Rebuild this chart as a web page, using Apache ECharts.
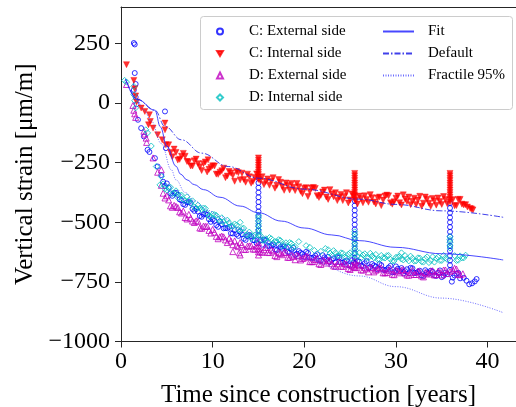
<!doctype html>
<html lang="en">
<head>
<meta charset="UTF-8" />
<title>Vertical strain</title>
<script src="https://cdn.jsdelivr.net/npm/echarts@6/dist/echarts.min.js"></script>
<style>
  html, body { margin: 0; padding: 0; background: #fff; }
  #chart { width: 516px; height: 407px; }
</style>
</head>
<body>
<div id="chart"></div>
<script>
// axis ticks
const xTicks = [0, 10, 20, 30, 40];
const yTicks = [-1000, -750, -500, -250, 0, 250];

// C: External side [years, strain]
const cExternal = [
  [1.4,252],[1.5,246],[1.5,126],[1.6,80],[1.4,55],[1.6,25],[1.7,-5],[1.85,-70],[2.2,-105],[2.5,-140],
  [2.9,-196],[3.1,-205],[3.7,-231],[4.0,-266],[4.8,-35],[4.9,-189],
  [4.4,-302],[4.8,-348],[5.2,-355],[5.6,-389],[6.0,-376],[6.4,-404],[6.8,-424],[7.2,-416],[7.6,-419],
  [8.0,-452],[8.4,-455],[8.8,-477],[9.2,-464],[9.6,-487],[10.0,-488],[10.4,-512],[10.8,-496],[11.2,-525],
  [11.6,-525],[12.0,-546],[12.4,-533],[12.8,-557],[13.2,-550],[13.6,-574],[14.0,-553],[14.4,-575],
  [14.8,-588],[15.2,-575],[15.6,-572],[16.0,-599],[16.4,-597],[16.8,-614],[17.2,-594],[17.6,-611],
  [18.0,-606],[18.4,-627],[18.8,-607],[19.2,-632],[19.6,-628],[20.0,-645],[20.4,-629],[20.8,-650],
  [21.2,-640],[21.6,-661],[22.0,-638],[22.4,-656],[22.8,-667],[23.2,-651],[23.6,-646],[24.0,-669],
  [24.4,-665],[24.8,-680],[25.2,-659],[25.6,-674],[26.0,-665],[26.4,-684],[26.8,-663],[27.2,-687],
  [27.6,-681],[28.0,-697],[28.4,-680],[28.8,-701],[29.2,-690],[29.6,-710],[30.0,-685],[30.4,-704],
  [30.8,-714],[31.2,-697],[31.6,-691],[32.0,-713],[32.4,-708],[32.8,-723],[33.2,-701],[33.6,-715],
  [34.0,-707],[34.4,-725],[34.8,-702],[35.2,-724],[35.6,-717],[36.1,-749],[36.2,-732],[36.6,-715],
  [37.0,-735],[37.4,-733],[37.7,-745],[38.0,-760],[38.3,-756],[38.6,-748],[38.8,-738]
];
const cExternalRow2 = [
  [4.6,-330],[5.0,-337],[5.4,-379],[5.8,-377],[6.2,-385],[6.6,-408],[7.0,-427],[7.4,-415],[7.8,-444],
  [8.2,-444],[8.6,-474],[9.0,-467],[9.4,-469],[9.8,-498],[10.2,-494],[10.6,-519],[11.0,-508],[11.4,-524],
  [11.8,-519],[12.2,-547],[12.6,-550],[13.0,-539],[13.4,-569],[13.8,-558],[14.2,-559],[14.6,-576],
  [15.4,-594],[15.8,-576],[16.2,-600],[16.6,-593],[17.0,-617],[17.4,-604],[17.8,-601],[18.2,-624],
  [18.6,-615],[19.0,-636],[19.4,-621],[19.8,-633],[20.2,-624],[20.6,-648],[21.0,-648],[21.4,-634],
  [21.8,-661],[22.2,-647],[22.6,-645],[23.0,-658],[23.4,-669],[23.8,-648],[24.2,-669],[24.6,-660],
  [25.0,-682],[25.4,-668],[25.8,-662],[26.2,-682],[26.6,-672],[27.0,-692],[27.4,-675],[27.8,-686],
  [28.2,-675],[28.6,-699],[29.0,-698],[29.4,-683],[29.8,-709],[30.2,-695],[30.6,-692],[31.0,-705],
  [31.4,-714],[31.8,-693],[32.2,-712],[32.6,-703],[33.0,-725],[33.4,-710],[33.8,-703],[34.2,-723],
  [34.6,-712],[35.0,-730],[35.4,-712],[36.4,-723],[36.8,-712]
];
const cExternalSpikes = [
  [15.0,-315],[15.0,-335],[15.0,-355],[15.0,-375],[15.0,-395],[15.0,-415],[15.0,-435],[15.0,-455],
  [15.0,-475],[15.0,-495],[15.0,-515],[15.0,-535],[15.0,-555],
  [25.5,-410],[25.5,-430],[25.5,-450],[25.5,-470],[25.5,-490],[25.5,-510],[25.5,-530],[25.5,-550],
  [25.5,-570],[25.5,-590],[25.5,-610],[25.5,-630],[25.5,-650],
  [35.9,-420],[35.9,-440],[35.9,-460],[35.9,-480],[35.9,-500],[35.9,-520],[35.9,-540],[35.9,-560],
  [35.9,-580],[35.9,-600],[35.9,-620],[35.9,-640],[35.9,-660],[35.9,-680],[35.9,-700]
];

// C: Internal side
const cInternal = [
  [0.6,161],[1.4,95],[1.5,60],[1.6,30],[1.7,5],[2.2,-21],[2.6,-35],[3.1,-49],[3.2,-77],[3.0,-91],
  [3.5,-105],[4.0,-133],[4.8,-84],[4.8,-112],[4.5,-154],[4.9,-175],[9.5,-238],
  [5.2,-175],[5.6,-225],[6.0,-207],[6.4,-236],[6.8,-211],[7.2,-245],[7.6,-264],[8.0,-242],[8.4,-254],
  [8.8,-283],[9.2,-247],[9.6,-278],[10.0,-263],[10.4,-298],[10.8,-290],[11.2,-273],[11.6,-306],
  [12.0,-293],[12.4,-328],[12.8,-292],[13.2,-294],[13.6,-332],[14.0,-309],[14.4,-329],[14.8,-297],
  [15.2,-326],[15.6,-342],[16.0,-318],[16.4,-328],[16.8,-357],[17.2,-321],[17.6,-351],[18.0,-335],
  [18.4,-365],[18.8,-353],[19.2,-337],[19.6,-370],[20.0,-357],[20.4,-392],[20.8,-356],[21.2,-358],
  [21.6,-396],[22.0,-373],[22.4,-394],[22.8,-363],[23.2,-393],[23.6,-409],[24.0,-383],[24.4,-392],
  [24.8,-419],[25.2,-381],[25.6,-409],[26.0,-390],[26.4,-418],[26.8,-404],[27.2,-384],[27.6,-415],
  [28.0,-398],[28.4,-430],[28.8,-390],[29.2,-389],[29.6,-424],[30.0,-399],[30.4,-418],[30.8,-385],
  [31.2,-413],[31.6,-426],[32.0,-399],[32.4,-407],[32.8,-433],[33.2,-394],[33.6,-420],[34.0,-400],
  [34.4,-428],[34.8,-413],[35.2,-392],[35.6,-422],[36.2,-405],[36.6,-430],[37.0,-404],[37.4,-427],
  [37.8,-436],[38.1,-442],[38.4,-448]
];
const cInternalRow2 = [
  [5.4,-207],[5.8,-193],[6.2,-239],[6.6,-223],[7.0,-223],[7.4,-246],[7.8,-264],[8.2,-235],[8.6,-267],
  [9.0,-254],[9.4,-289],[9.8,-270],[10.2,-264],[10.6,-299],[11.0,-284],[11.4,-313],[11.8,-287],
  [12.2,-304],[12.6,-287],[13.0,-322],[13.4,-320],[13.8,-298],[14.2,-336],[14.6,-312],[15.4,-309],
  [15.8,-329],[16.2,-345],[16.6,-313],[17.0,-345],[17.4,-332],[17.8,-366],[18.2,-346],[18.6,-337],
  [19.0,-367],[19.4,-351],[19.8,-380],[20.2,-355],[20.6,-371],[21.0,-354],[21.4,-389],[21.8,-387],
  [22.2,-365],[22.6,-404],[23.0,-381],[23.4,-376],[23.8,-395],[24.2,-409],[24.6,-376],[25.0,-406],
  [25.4,-391],[25.8,-423],[26.2,-400],[26.6,-389],[27.0,-416],[27.4,-397],[27.8,-423],[28.2,-394],
  [28.6,-407],[29.0,-386],[29.4,-418],[29.8,-414],[30.2,-390],[30.6,-427],[31.0,-402],[31.4,-394],
  [31.8,-412],[32.2,-425],[32.6,-391],[33.0,-420],[33.4,-403],[33.8,-433],[34.2,-410],[34.6,-398],
  [35.0,-425],[35.4,-404],[36.4,-431],[36.8,-404],[37.2,-424],[37.6,-426],[38.25,-444]
];
const cInternalSpikes = [
  [15.0,-230],[15.0,-240],[15.0,-250],[15.0,-260],[15.0,-270],[15.0,-280],[15.0,-290],[15.0,-300],
  [15.0,-310],[15.0,-320],
  [25.5,-295],[25.5,-305],[25.5,-315],[25.5,-325],[25.5,-335],[25.5,-345],[25.5,-355],[25.5,-365],
  [25.5,-375],[25.5,-385],[25.5,-395],[25.5,-405],
  [35.9,-295],[35.9,-305],[35.9,-315],[35.9,-325],[35.9,-335],[35.9,-345],[35.9,-355],[35.9,-365],
  [35.9,-375],[35.9,-385],[35.9,-395],[35.9,-405],[35.9,-415]
];

// D: External side
const dExternal = [
  [0.6,78],[1.3,-10],[1.4,-30],[1.5,-45],[1.6,-60],[2.5,-118],[2.6,-130],[2.75,-147],[2.8,-165],
  [3.5,-230],[4.0,-290],[4.4,-280],[12.2,-623],[13.0,-637],[12.9,-628],
  [4.4,-345],[4.8,-398],[5.2,-406],[5.6,-437],[6.0,-433],[6.4,-456],[6.8,-453],[7.2,-486],[7.6,-483],
  [8.0,-501],[8.4,-496],[8.8,-525],[9.2,-517],[9.6,-534],[10.0,-530],[10.4,-559],[10.8,-561],
  [11.2,-561],[11.6,-585],[12.0,-579],[12.4,-578],[12.8,-602],[13.2,-594],[13.6,-614],[14.0,-599],
  [14.4,-612],[14.8,-600],[15.2,-624],[15.6,-615],[16.0,-626],[16.4,-615],[16.8,-639],[17.2,-626],
  [17.6,-636],[18.0,-626],[18.4,-647],[18.8,-643],[19.2,-638],[19.6,-658],[20.0,-649],[20.4,-645],
  [20.8,-665],[21.2,-656],[21.6,-674],[22.0,-658],[22.4,-671],[22.8,-658],[23.2,-683],[23.6,-674],
  [24.0,-684],[24.4,-672],[24.8,-694],[25.2,-680],[25.6,-690],[26.0,-679],[26.4,-700],[26.8,-695],
  [27.2,-689],[27.6,-708],[28.0,-697],[28.4,-692],[28.8,-712],[29.2,-701],[29.6,-718],[30.0,-701],
  [30.4,-712],[30.8,-698],[31.2,-721],[31.6,-710],[32.0,-719],[32.4,-705],[32.8,-725],[33.2,-710],
  [33.6,-717],[34.0,-703],[34.4,-719],[34.8,-710],[35.2,-700],[35.6,-715],[36.2,-701],[36.6,-696],
  [37.0,-720],[37.3,-716]
];
const dExternalRow2 = [
  [4.6,-378],[5.0,-389],[5.4,-431],[5.8,-429],[6.2,-438],[6.6,-461],[7.0,-480],[7.4,-467],[7.8,-495],
  [8.2,-494],[8.6,-524],[9.0,-516],[9.4,-517],[9.8,-545],[10.2,-542],[10.6,-569],[11.0,-558],
  [11.4,-574],[11.8,-567],[12.2,-594],[12.6,-597],[13.0,-585],[13.4,-613],[13.8,-600],[14.2,-599],
  [14.6,-613],[15.4,-626],[15.8,-606],[16.2,-627],[16.6,-620],[17.0,-644],[17.4,-631],[17.8,-626],
  [18.2,-647],[18.6,-637],[19.0,-657],[19.4,-641],[19.8,-652],[20.2,-642],[20.6,-665],[21.0,-665],
  [21.4,-650],[21.8,-677],[22.2,-663],[22.6,-660],[23.0,-674],[23.4,-685],[23.8,-664],[24.2,-685],
  [24.6,-676],[25.0,-698],[25.4,-685],[25.8,-679],[26.2,-700],[26.6,-689],[27.0,-708],[27.4,-691],
  [27.8,-701],[28.2,-689],[28.6,-712],[29.0,-711],[29.4,-695],[29.8,-720],[30.2,-705],[30.6,-701],
  [31.0,-713],[31.4,-722],[31.8,-700],[32.2,-719],[32.6,-708],[33.0,-729],[33.4,-713],[33.8,-705],
  [34.2,-721],[34.6,-706],[35.0,-721],[35.4,-700],[35.9,-706],[36.4,-693],[36.8,-718]
];
const dExternalSpikes = [
  [15.0,-585],[15.0,-598],[15.0,-611],[15.0,-624],[15.0,-637],
  [25.5,-662],[25.5,-676],[25.5,-690]
];

// D: Internal side
const dInternal = [
  [0.4,95],[0.6,88],[1.4,70],[1.4,35],[1.5,10],[1.6,-20],[2.7,-112],[2.9,-125],[3.3,-180],
  [3.85,-266],[4.4,-308],[4.25,-343],
  [13.0,-500],[19.4,-581],[20.2,-598],[20.6,-605],[21.1,-618],[21.8,-622],[22.3,-610],[30.6,-628],
  [4.6,-339],[5.0,-365],[5.4,-353],[5.8,-377],[6.2,-396],[6.6,-386],[7.0,-409],[7.4,-408],[7.8,-410],
  [8.2,-440],[8.6,-441],[9.0,-440],[9.4,-462],[9.8,-476],[10.2,-468],[10.6,-487],[11.0,-481],
  [11.4,-509],[11.8,-502],[12.2,-517],[12.6,-512],[13.0,-536],[13.4,-525],[13.8,-551],[14.2,-567],
  [14.6,-554],[15.4,-576],[15.8,-569],[16.2,-564],[16.6,-588],[17.0,-582],[17.4,-576],[17.8,-594],
  [18.2,-603],[18.6,-589],[19.0,-602],
  [22.6,-615],[23.0,-638],[23.4,-628],[23.8,-640],[24.2,-630],[24.6,-648],[25.0,-628],[25.8,-642],
  [26.2,-650],[26.6,-632],[27.0,-649],[27.4,-641],[27.8,-635],[28.2,-656],[28.6,-648],[29.0,-640],
  [29.4,-655],[29.8,-662],[30.2,-645],[30.6,-654],[31.0,-640],[31.4,-662],[31.8,-651],[32.2,-662],
  [32.6,-650],[33.0,-667],[33.4,-645],[33.8,-660],[34.2,-667],[34.6,-646],[35.0,-660],[35.4,-649],
  [36.4,-640],[36.8,-659],[37.2,-649],[37.6,-638]
];
const dInternalRow2 = [
  [4.8,-359],[5.2,-355],[5.6,-381],[6.0,-368],[6.4,-387],[6.8,-405],[7.2,-393],[7.6,-420],[8.0,-436],
  [8.4,-428],[8.8,-446],[9.2,-442],[9.6,-474],[10.0,-466],[10.4,-471],[10.8,-496],[11.2,-497],
  [11.6,-491],[12.0,-516],[12.4,-507],[12.8,-531],[13.2,-526],[13.6,-554],[14.0,-541],[14.4,-556],
  [14.8,-572],[15.2,-555],[15.6,-574],[16.0,-583],[16.4,-569],[16.8,-581],[17.2,-573],[17.6,-600],
  [18.0,-586],[18.4,-585],[18.8,-604],
  [22.8,-629],[23.2,-619],[23.6,-641],[24.0,-628],[24.4,-646],[24.8,-634],[25.2,-652],[26.0,-628],
  [26.4,-637],[26.8,-648],[27.2,-630],[27.6,-649],[28.0,-656],[28.4,-639],[28.8,-650],[29.2,-639],
  [29.6,-663],[30.0,-647],[30.4,-643],[30.8,-658],[31.2,-653],[31.6,-642],[32.0,-663],[32.4,-649],
  [32.8,-665],[33.2,-652],[33.6,-669],[34.0,-645],[34.4,-652],[34.8,-660],[35.2,-639],[35.6,-656],
  [36.6,-660],[37.0,-641],[37.4,-649]
];
const dInternalSpikes = [
  [15.0,-470],[15.0,-482],[15.0,-494],[15.0,-506],[15.0,-518],[15.0,-530],[15.0,-542],[15.0,-554],
  [25.5,-540],[25.5,-552],[25.5,-564],[25.5,-576],[25.5,-588],[25.5,-600],[25.5,-612],[25.5,-624],[25.5,-636],
  [35.9,-560],[35.9,-572],[35.9,-584],[35.9,-596],[35.9,-608]
];

// model curves
const fitT = [0.5, 1.8, 3.7, 4.3, 5.0, 6.0, 6.5, 7.2, 8.0, 9.0, 10.8, 13, 15, 17.5, 20, 23, 26, 30, 35, 41.7];
const fitV = [100, 15, -30, -100, -180, -265, -298, -322, -342, -363, -395, -432, -460, -495, -524, -553, -577, -605, -632, -658];
const defaultT = [0.5, 1.8, 3.7, 4.8, 6.6, 8.8, 11.7, 15, 20, 26, 30, 35, 41.7];
const defaultV = [100, 15, -30, -98, -154, -210, -266, -315, -361, -403, -425, -452, -479];
const fractileT = [0.5, 1.8, 2.5, 3.3, 4.4, 5.5, 6.0, 7.0, 8.0, 9.5, 10.8, 13, 15, 20, 26, 30, 35, 41.7];
const fractileV = [100, 10, -30, -75, -170, -280, -322, -375, -410, -450, -476, -525, -570, -655, -725, -770, -818, -879];

const FONT = 'Liberation Serif';
const minus = (v) => String(v).replace('-', '\u2212');
const pairs = (ts, vs) => ts.map((t, i) => [t, vs[i]]);
const hollow = (c) => ({ color: 'rgba(255,255,255,0)', borderColor: c, borderWidth: 1 });

const chart = echarts.init(document.getElementById('chart'));
const axisLineStyle = { color: '#262626', width: 1 };
const legendText = { fontFamily: FONT, fontSize: 15, color: '#000', lineHeight: 15 };

chart.setOption({
  animation: false,
  backgroundColor: '#fff',
  grid: { left: 121, top: 7, right: 0, bottom: 65.5, outerBoundsMode: 'none' },
  xAxis: [
    {
      type: 'value', min: 0, max: 43.1, position: 'bottom',
      axisLine: { show: true, onZero: false, lineStyle: axisLineStyle },
      axisTick: { show: true, length: 6, customValues: xTicks, lineStyle: axisLineStyle },
      axisLabel: { customValues: xTicks, fontFamily: FONT, fontSize: 24, color: '#000', margin: 8 },
      splitLine: { show: false },
      name: 'Time since construction [years]', nameLocation: 'middle', nameGap: 41,
      nameTextStyle: { fontFamily: FONT, fontSize: 25, color: '#000' }
    },
    {
      type: 'value', min: 0, max: 43.1, position: 'top',
      axisLine: { show: true, onZero: false, lineStyle: axisLineStyle },
      axisTick: { show: false }, axisLabel: { show: false }, splitLine: { show: false }
    }
  ],
  yAxis: {
    type: 'value', min: -1000, max: 403, interval: 250,
    axisLine: { show: true, onZero: false, lineStyle: axisLineStyle },
    axisTick: { show: true, length: 6, customValues: yTicks, lineStyle: axisLineStyle },
    axisLabel: { customValues: yTicks, fontFamily: FONT, fontSize: 24, color: '#000', margin: 11, formatter: minus },
    splitLine: { show: false },
    name: 'Vertical strain [\u03bcm/m]', nameLocation: 'middle', nameGap: 74,
    nameTextStyle: { fontFamily: FONT, fontSize: 25, color: '#000' }
  },
  graphic: [{
    type: 'rect', z: 100,
    shape: { x: 200.5, y: 16.5, width: 312, height: 93, r: 3 },
    style: { fill: 'rgba(255,255,255,0.85)', stroke: '#cccccc', lineWidth: 1 }
  }],
  legend: [
    {
      z: 200, orient: 'vertical', left: 216, top: 24, padding: 0,
      itemWidth: 6, itemHeight: 6, itemGap: 7,
      textStyle: Object.assign({ padding: [0, 0, 0, 21] }, legendText),
      data: [
        'C: External side',
        { name: 'C: Internal side', icon: 'path://M0,0L10,0L5,8.66Z' },
        'D: External side',
        'D: Internal side'
      ]
    },
    {
      z: 200, orient: 'vertical', left: 382, top: 24, padding: 0,
      itemWidth: 31, itemHeight: 6, itemGap: 7,
      itemStyle: { opacity: 0 },
      textStyle: Object.assign({ padding: [0, 0, 0, 9] }, legendText),
      data: ['Fit', 'Default', 'Fractile 95%']
    }
  ],
  series: [
    {
      name: 'C: External side', type: 'scatter', symbol: 'circle', symbolSize: 5,
      itemStyle: hollow('#0000ff'), data: cExternal.concat(cExternalRow2, cExternalSpikes)
    },
    {
      name: 'C: Internal side', type: 'scatter', symbol: 'triangle', symbolRotate: 180, symbolSize: 6,
      itemStyle: { color: '#ff0000', borderColor: '#ff0000', borderWidth: 0.5 },
      data: cInternal.concat(cInternalRow2, cInternalSpikes)
    },
    {
      name: 'D: External side', type: 'scatter', symbol: 'triangle', symbolSize: 6,
      itemStyle: hollow('#bf00bf'), data: dExternal.concat(dExternalRow2, dExternalSpikes)
    },
    {
      name: 'D: Internal side', type: 'scatter', symbol: 'diamond', symbolSize: 6,
      itemStyle: hollow('#00bfbf'), data: dInternal.concat(dInternalRow2, dInternalSpikes)
    },
    {
      name: 'Fit', type: 'line', symbol: 'none', smooth: 0.4, smoothMonotone: 'x',
      itemStyle: { color: '#2828ff' },
      lineStyle: { color: 'rgba(40,40,255,0.85)', width: 1 }, data: pairs(fitT, fitV)
    },
    {
      name: 'Default', type: 'line', symbol: 'none', smooth: 0.4, smoothMonotone: 'x',
      itemStyle: { color: '#1e1ee6' },
      lineStyle: { color: 'rgba(30,30,230,0.85)', width: 1, type: [6, 2, 1.5, 2] }, data: pairs(defaultT, defaultV)
    },
    {
      name: 'Fractile 95%', type: 'line', symbol: 'none', smooth: 0.4, smoothMonotone: 'x',
      itemStyle: { color: '#4646ff' },
      lineStyle: { color: 'rgba(70,70,255,0.8)', width: 1, type: [1, 1.5] }, data: pairs(fractileT, fractileV)
    }
  ]
});
</script>
</body>
</html>
